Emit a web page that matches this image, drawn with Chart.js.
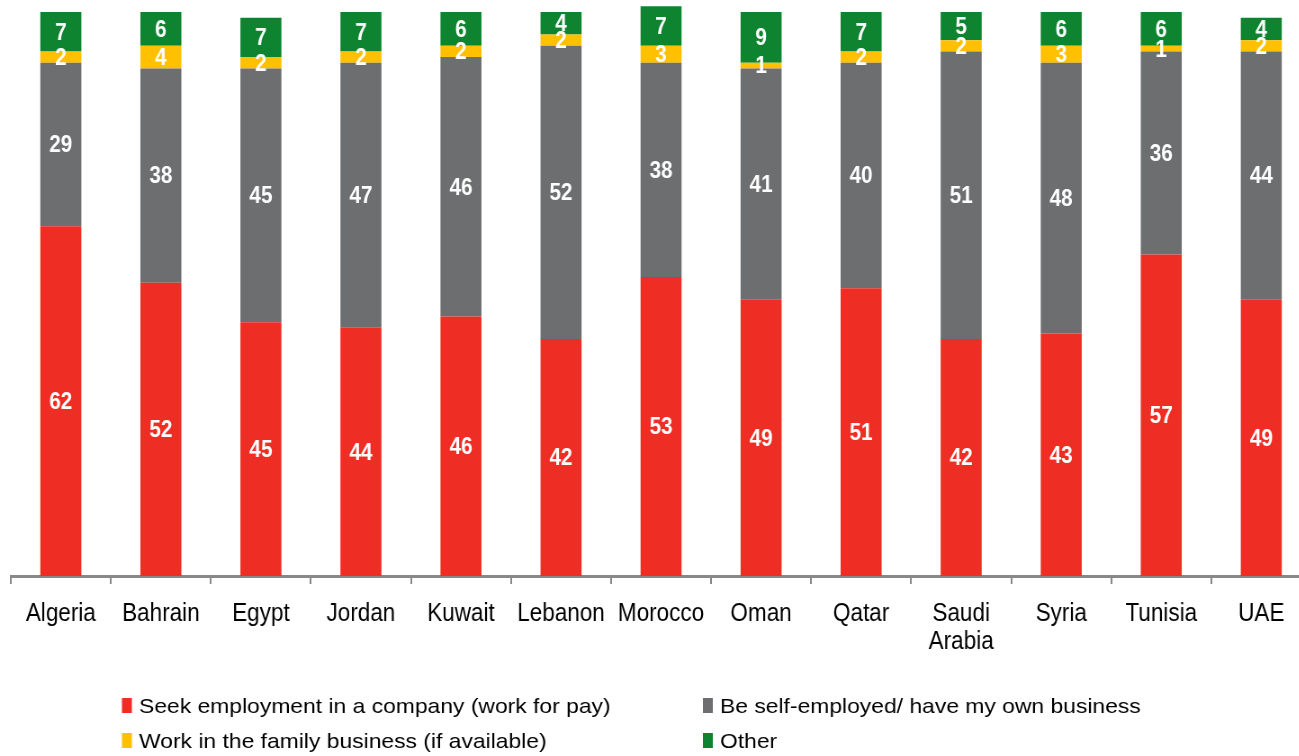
<!DOCTYPE html>
<html>
<head>
<meta charset="utf-8">
<script src="https://cdn.jsdelivr.net/npm/chart.js@4"></script>
<style>
  html, body { margin: 0; padding: 0; background: #fff; overflow: hidden; width: 1299px; height: 756px; }
  /* source chart is horizontally condensed, so draw wide and squeeze */
  #wrap { position: absolute; left: 0; top: 0; width: 1460px; height: 756px; transform: scaleX(0.9); transform-origin: 0 0; }
</style>
</head>
<body>
<div id="wrap"><canvas id="chart" width="1460" height="756"></canvas></div>
<script>
const countries = ['Algeria', 'Bahrain', 'Egypt', 'Jordan', 'Kuwait', 'Lebanon', 'Morocco', 'Oman', 'Qatar', ['Saudi', 'Arabia'], 'Syria', 'Tunisia', 'UAE'];
const seekEmployment = [62, 52, 45, 44, 46, 42, 53, 49, 51, 42, 43, 57, 49];
const selfEmployed   = [29, 38, 45, 47, 46, 52, 38, 41, 40, 51, 48, 36, 44];
const familyBusiness = [2, 4, 2, 2, 2, 2, 3, 1, 2, 2, 3, 1, 2];
const other          = [7, 6, 7, 7, 6, 4, 7, 9, 7, 5, 6, 6, 4];
const seriesNames = ['Seek employment in a company (work for pay)', 'Be self-employed/ have my own business', 'Work in the family business (if available)', 'Other'];

const colors = ['#EE2E24', '#6D6E70', '#FFC000', '#0E8430'];
const FONT = "'Liberation Sans', Arial, sans-serif";

// white value labels centred in each segment
const segmentLabels = {
    id: 'segmentLabels',
    afterDatasetsDraw(chart) {
        const ctx = chart.ctx;
        ctx.save();
        ctx.fillStyle = '#fff';
        ctx.font = 'bold 23px ' + FONT;
        ctx.textAlign = 'center';
        ctx.textBaseline = 'middle';
        chart.data.datasets.forEach((ds, i) => {
            chart.getDatasetMeta(i).data.forEach((bar, j) => {
                const y = (bar.y + bar.base) / 2;
                ctx.fillText(String(ds.data[j]), bar.x, y + 1.5);
            });
        });
        ctx.restore();
    }
};

// 2 x 2 legend under the axis (legend text is wider than the rest in the source)
const gridLegend = {
    id: 'gridLegend',
    afterDraw(chart) {
        const ctx = chart.ctx;
        const cols = [135.5, 781];
        const rows = [713, 748];
        ctx.save();
        ctx.font = '21px ' + FONT;
        ctx.textBaseline = 'alphabetic';
        ctx.textAlign = 'left';
        chart.data.datasets.forEach((ds, i) => {
            const x = cols[i % 2];
            const y = rows[Math.floor(i / 2)];
            ctx.fillStyle = ds.backgroundColor;
            ctx.fillRect(x, y - 15, 11, 15);
            ctx.save();
            ctx.translate(x + 19, y);
            ctx.scale(1.21, 1);
            ctx.fillStyle = '#000';
            ctx.fillText(ds.label, 0, 0);
            ctx.restore();
        });
        ctx.restore();
    }
};

const ctx = document.getElementById('chart').getContext('2d');
new Chart(ctx, {
    type: 'bar',
    data: {
        labels: countries,
        datasets: [seekEmployment, selfEmployed, familyBusiness, other].map((d, i) => ({
            label: seriesNames[i],
            data: d,
            backgroundColor: colors[i],
            borderWidth: 0,
            barPercentage: 0.41,
            categoryPercentage: 1,
            clip: false
        }))
    },
    options: {
        responsive: false,
        devicePixelRatio: 1,
        animation: false,
        events: [],
        layout: { padding: { top: 12, left: 12, right: 3, bottom: 90 } },
        plugins: {
            legend: { display: false },
            tooltip: { enabled: false }
        },
        scales: {
            x: {
                stacked: true,
                grid: { display: true, drawOnChartArea: false, drawTicks: true, tickLength: 8, color: '#888', lineWidth: 2 },
                border: { display: true, color: '#888', width: 3 },
                ticks: { color: '#000', padding: 16, font: { family: FONT, size: 25, lineHeight: 1.12 }, maxRotation: 0, autoSkip: false },
                afterFit(scale) { scale.height = 90; }
            },
            y: {
                stacked: true,
                display: false,
                min: 0,
                max: 100
            }
        }
    },
    plugins: [segmentLabels, gridLegend]
});
</script>
</body>
</html>
